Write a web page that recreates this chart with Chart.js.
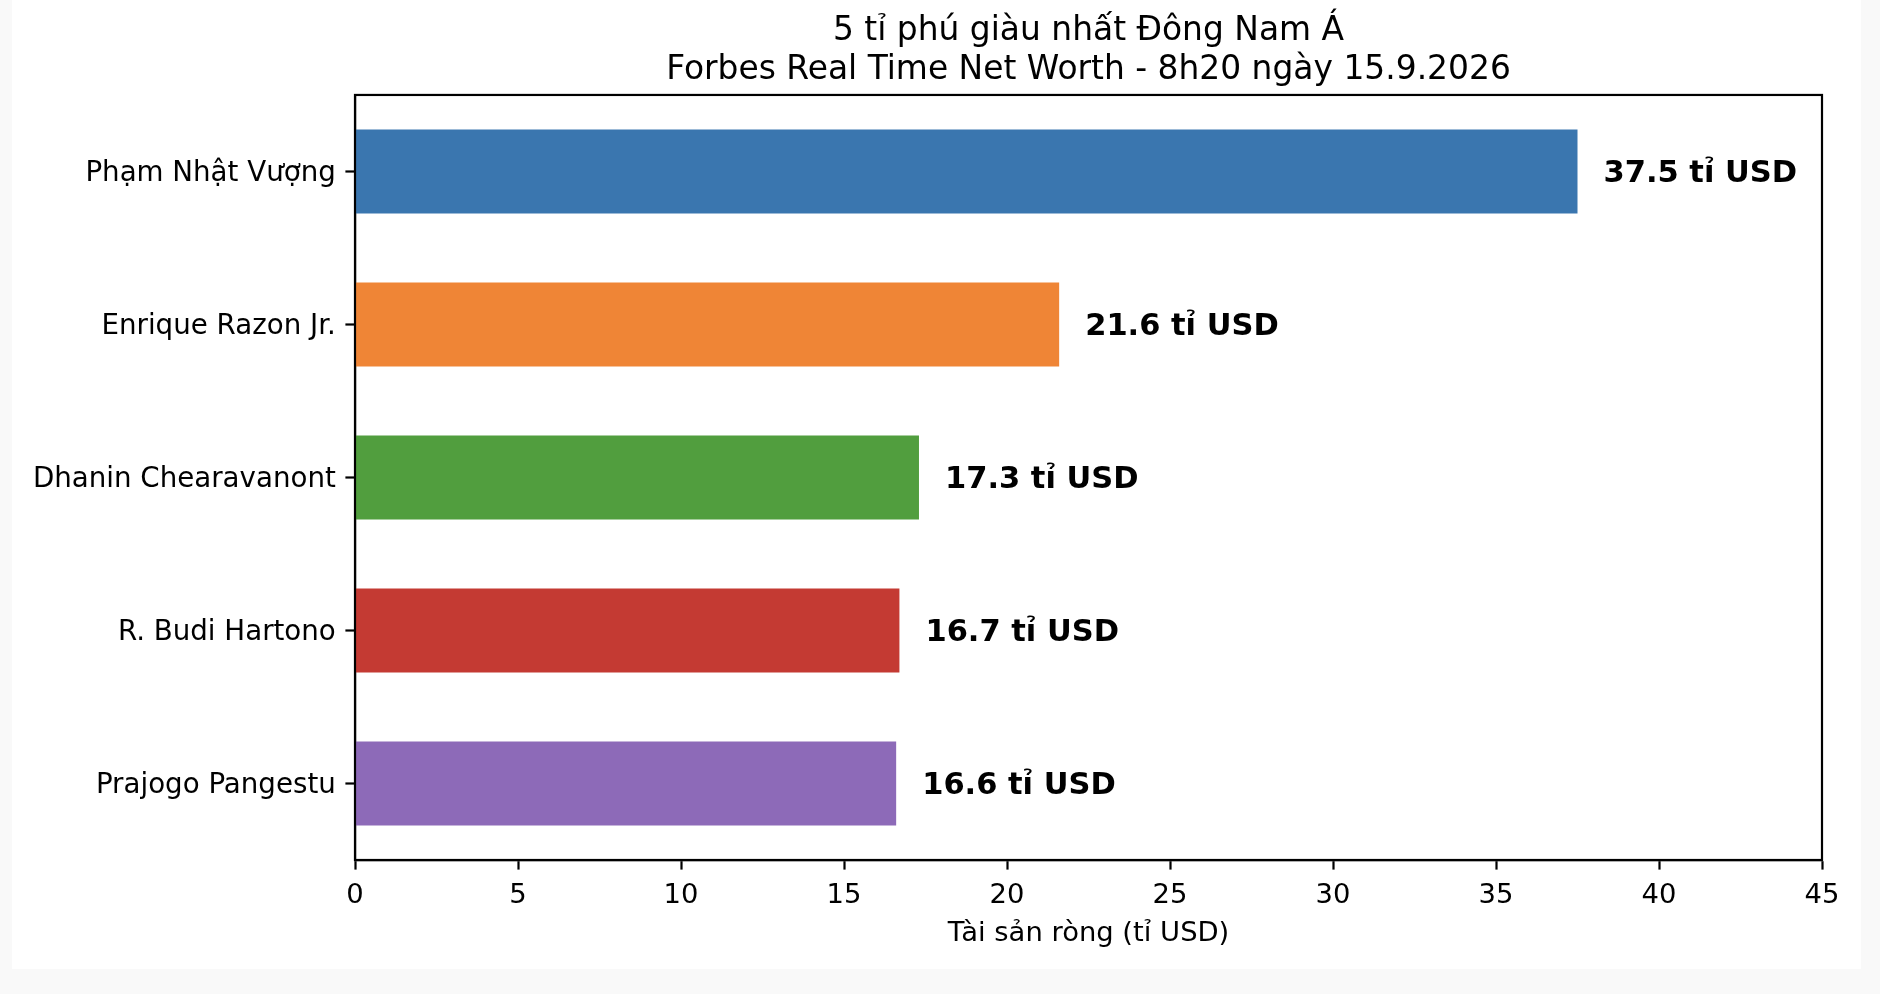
<!DOCTYPE html>
<html>
<head>
<meta charset="utf-8">
<script src="https://cdn.jsdelivr.net/npm/chart.js@4.4.0/dist/chart.umd.min.js"></script>
<style>
    html, body { margin: 0; padding: 0; width: 1880px; height: 994px; overflow: hidden; background: #f9f9f9; }
    #paper { position: absolute; left: 12px; top: 0; width: 1849px; height: 969px; background: #ffffff; }
    #wrap { position: absolute; left: 0; top: 0; width: 1880px; height: 994px; }
</style>
</head>
<body>
<div id="paper"></div>
<div id="wrap"><canvas id="netWorthCanvas"></canvas></div>
<script>
const names = ['Phạm Nhật Vượng', 'Enrique Razon Jr.', 'Dhanin Chearavanont', 'R. Budi Hartono', 'Prajogo Pangestu'];
const netWorth = [37.5, 21.6, 17.3, 16.7, 16.6];
const barColors = ['#3a76af', '#ef8536', '#519e3e', '#c43a33', '#8d6ab8'];
const xTicks = [0, 5, 10, 15, 20, 25, 30, 35, 40, 45];
const titleLines = ['5 tỉ phú giàu nhất Đông Nam Á', 'Forbes Real Time Net Worth - 8h20 ngày 15.9.2026'];
const xAxisTitle = 'Tài sản ròng (tỉ USD)';
const unitSuffix = ' tỉ USD';

document.addEventListener("DOMContentLoaded", function () {
    Chart.defaults.font.family = "'DejaVu Sans', sans-serif";
    Chart.defaults.color = '#000';

    // black box around the plot area
    const frame = {
        id: 'frame',
        afterDraw(chart) {
            const a = chart.chartArea, c = chart.ctx;
            c.save();
            c.strokeStyle = '#000';
            c.lineWidth = 2.2;
            c.strokeRect(a.left, a.top, a.right - a.left, a.bottom - a.top);
            c.restore();
        }
    };

    // value text right of each bar
    const valueLabels = {
        id: 'valueLabels',
        afterDatasetsDraw(chart) {
            const c = chart.ctx;
            const meta = chart.getDatasetMeta(0);
            c.save();
            c.font = "bold 30.5px 'DejaVu Sans'";
            c.fillStyle = '#000';
            c.textAlign = 'left';
            c.textBaseline = 'middle';
            meta.data.forEach(function (bar, i) {
                c.fillText(netWorth[i].toFixed(1) + unitSuffix, bar.x + 26, bar.y + 2.5);
            });
            c.restore();
        }
    };

    const ctx = document.getElementById('netWorthCanvas').getContext('2d');
    new Chart(ctx, {
        type: 'bar',
        data: {
            labels: names,
            datasets: [{
                data: netWorth,
                backgroundColor: barColors,
                borderWidth: 0,
                barPercentage: 0.55,
                categoryPercentage: 1.0
            }]
        },
        options: {
            indexAxis: 'y',
            responsive: true,
            maintainAspectRatio: false,
            animation: false,
            layout: { padding: { left: 0, right: 58, top: 0, bottom: 44 } },
            plugins: {
                legend: { display: false },
                tooltip: { enabled: false },
                title: {
                    display: true,
                    text: titleLines,
                    fullSize: false,
                    color: '#000',
                    font: { size: 32.9, weight: 'normal' },
                    padding: { top: 11.6, bottom: 4.4 }
                }
            },
            scales: {
                x: {
                    type: 'linear',
                    min: 0,
                    max: 45,
                    afterBuildTicks: function (s) { s.ticks = xTicks.map(v => ({ value: v })); },
                    ticks: { font: { size: 27.4 }, color: '#000', padding: 9.6, maxRotation: 0 },
                    grid: { drawOnChartArea: false, drawTicks: true, tickLength: 9.6, tickWidth: 2.2, tickColor: '#000' },
                    border: { display: true, color: '#000', width: 2.2 },
                    title: { display: true, text: xAxisTitle, color: '#000', font: { size: 27.4 }, padding: { top: 12, bottom: 0 } },
                    afterFit: function (s) { s.height = 90; }
                },
                y: {
                    type: 'category',
                    offset: true,
                    ticks: { font: { size: 27.7 }, color: '#000', padding: 9.6, labelOffset: 2.5 },
                    grid: { offset: false, drawOnChartArea: false, drawTicks: true, tickLength: 9.6, tickWidth: 2.2, tickColor: '#000' },
                    border: { display: true, color: '#000', width: 2.2 },
                    afterFit: function (s) { s.width = 355; }
                }
            }
        },
        plugins: [frame, valueLabels]
    });
});
</script>
</body>
</html>
